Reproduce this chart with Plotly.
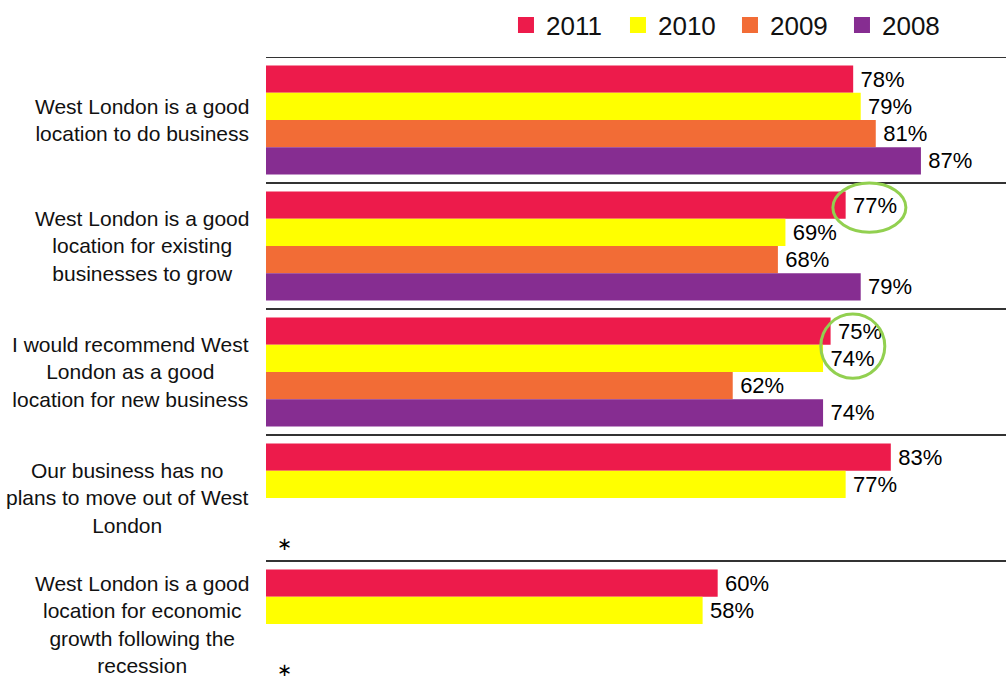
import plotly.graph_objects as go

categories = [
    "West London is a good<br>location to do business",
    "West London is a good<br>location for existing<br>businesses to grow",
    "I would recommend West<br>London as a good<br>location for new business",
    "Our business has no<br>plans to move out of West<br>London",
    "West London is a good<br>location for economic<br>growth following the<br>recession",
]
years = ["2011", "2010", "2009", "2008"]
v2011 = [78, 77, 75, 83, 60]
v2010 = [79, 69, 74, 77, 58]
v2009 = [81, 68, 62, None, None]
v2008 = [87, 79, 74, None, None]
series = [v2011, v2010, v2009, v2008]
colors = ["#ED1B4B", "#FFFF00", "#F26C36", "#862D91"]

FONT = "Liberation Sans, Arial, sans-serif"
ypos = list(range(len(categories)))

fig = go.Figure()
for name, vals, col in zip(years, series, colors):
    fig.add_trace(go.Bar(
        name=name, x=vals, y=ypos, orientation="h",
        marker=dict(color=col, line=dict(width=0)),
        texttemplate="\u2009%{x}%", textposition="outside",
        textfont=dict(family=FONT, size=22, color="#000000"),
        constraintext="none", cliponaxis=False,
        hoverinfo="skip", showlegend=False,
    ))
# legend entries (square swatches)
for name, col in zip(years, colors):
    fig.add_trace(go.Scatter(
        name=name, x=[None], y=[None], mode="markers",
        marker=dict(symbol="square", size=16, color=col),
        showlegend=True, hoverinfo="skip",
    ))

shapes = []
# separator lines between category groups
for i in ypos:
    shapes.append(dict(type="line", xref="paper", yref="y", x0=0, x1=1,
                       y0=i - 0.5, y1=i - 0.5,
                       line=dict(color="#333333", width=2)))
# green highlight ellipses
shapes.append(dict(type="circle", xref="x", yref="y", x0=75.3, x1=85.0,
                   y0=0.50, y1=0.89, line=dict(color="#92D050", width=3)))
shapes.append(dict(type="circle", xref="x", yref="y", x0=73.7, x1=82.2,
                   y0=1.54, y1=2.05, line=dict(color="#92D050", width=3)))

annotations = []
for i, cat in enumerate(categories):
    annotations.append(dict(text=cat, xref="paper", yref="y", x=-0.02, y=i,
                            xanchor="right", yanchor="middle", align="center",
                            showarrow=False,
                            font=dict(family=FONT, size=21, color="#111111")))
# asterisks for questions not asked in earlier years
for i in ypos:
    if series[2][i] is None:
        annotations.append(dict(text="\u2217", xref="x", yref="y", x=2.5, y=i + 0.36,
                                xanchor="center", yanchor="middle", showarrow=False,
                                font=dict(family="DejaVu Sans", size=18, color="#000000")))

fig.update_layout(
    width=1006, height=681,
    margin=dict(l=266, r=0, t=57, b=0),
    paper_bgcolor="white", plot_bgcolor="white",
    barmode="group", bargap=0.135, bargroupgap=0,
    xaxis=dict(range=[0, 98.3], visible=False, showgrid=False, zeroline=False),
    yaxis=dict(range=[4.452, -0.5], visible=False, showgrid=False, zeroline=False),
    showlegend=True,
    legend=dict(orientation="h", x=0.3243, y=1.051, xanchor="left", yanchor="middle",
                font=dict(family=FONT, size=26, color="#111111"),
                traceorder="normal", bgcolor="rgba(0,0,0,0)",
                entrywidth=67, entrywidthmode="pixels"),
    shapes=shapes,
    annotations=annotations,
)

fig.write_html("out.html")
